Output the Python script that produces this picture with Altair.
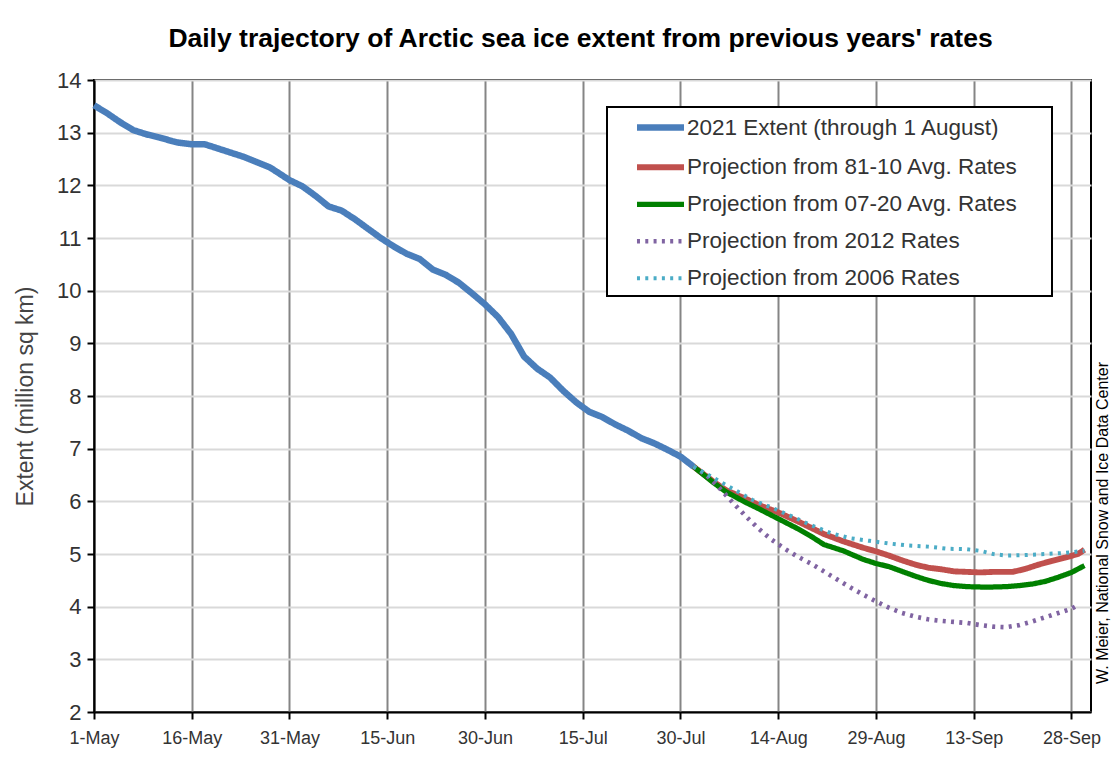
import altair as alt
import pandas as pd

# ---- data (days since 1 May 2021, extent in million sq km) ----
ext_day = [0, 2, 4, 6, 8, 10, 12, 13, 15, 17, 19, 21, 23, 25, 27, 28, 30, 32, 34, 36, 38, 40,
           42, 44, 46, 48, 50, 52, 54, 56, 58, 60, 62, 64, 66, 68, 70, 72, 74, 76, 78, 80,
           82, 84, 86, 88, 90, 92]
ext_val = [13.52, 13.37, 13.2, 13.05, 12.97, 12.91, 12.84, 12.81, 12.78, 12.78, 12.7, 12.62,
           12.54, 12.44, 12.34, 12.26, 12.1, 11.98, 11.8, 11.6, 11.52, 11.36, 11.18, 11.0,
           10.84, 10.7, 10.6, 10.4, 10.3, 10.15, 9.95, 9.74, 9.5, 9.18, 8.75, 8.52, 8.35,
           8.1, 7.88, 7.7, 7.6, 7.46, 7.34, 7.2, 7.1, 6.98, 6.85, 6.66]

r8110_day = [92, 95, 97, 100, 102, 105, 108, 110, 112, 115, 118, 120, 122, 124, 126, 128, 130,
             132, 134, 136, 138, 141, 143, 145, 147, 149, 151, 152]
r8110_val = [6.66, 6.38, 6.21, 6.05, 5.93, 5.79, 5.62, 5.5, 5.38, 5.24, 5.12, 5.05, 4.97, 4.88,
             4.8, 4.74, 4.71, 4.67, 4.66, 4.65, 4.66, 4.66, 4.72, 4.8, 4.87, 4.93, 5.0, 5.08]

r0720_day = [92, 95, 97, 100, 102, 105, 108, 110, 112, 115, 118, 120, 122, 124, 126, 128, 130,
             132, 134, 137, 140, 142, 144, 146, 148, 150, 152]
r0720_val = [6.66, 6.36, 6.18, 5.98, 5.86, 5.67, 5.48, 5.34, 5.18, 5.06, 4.9, 4.82, 4.76, 4.67,
             4.58, 4.5, 4.44, 4.4, 4.38, 4.37, 4.38, 4.4, 4.43, 4.48, 4.56, 4.65, 4.78]

r2012_day = [92, 94, 96, 98, 100, 102, 104, 106, 108, 110, 112, 114, 116, 118, 120, 122, 124,
             126, 128, 130, 132, 134, 136, 138, 140, 142, 144, 146, 148, 150, 151]
r2012_val = [6.66, 6.5, 6.25, 5.98, 5.72, 5.48, 5.27, 5.1, 4.95, 4.82, 4.67, 4.52, 4.37, 4.23,
             4.1, 3.98, 3.88, 3.81, 3.76, 3.73, 3.71, 3.69, 3.65, 3.62, 3.61, 3.65, 3.72, 3.8,
             3.88, 3.96, 4.03]

r2006_day = [92, 95, 98, 101, 104, 107, 110, 113, 116, 119, 122, 125, 128, 131, 134, 136, 138,
             140, 143, 146, 149, 152]
r2006_val = [6.66, 6.45, 6.24, 6.03, 5.88, 5.72, 5.55, 5.4, 5.3, 5.25, 5.2, 5.16, 5.14, 5.1,
             5.09, 5.06, 5.0, 4.97, 4.98, 5.0, 5.02, 5.06]

series_names = ["2021 Extent (through 1 August)",
                "Projection from 81-10 Avg. Rates",
                "Projection from 07-20 Avg. Rates",
                "Projection from 2012 Rates",
                "Projection from 2006 Rates"]
series_colors = ["#4a7ebb", "#c0504d", "#008000", "#8064a2", "#4bacc6"]
series_widths = [6.5, 4, 4, 4, 4]
series_dashes = [[1, 0], [1, 0], [1, 0], [3, 5.3], [3, 5.3]]

tick_days = [0, 15, 30, 45, 60, 75, 90, 105, 120, 135, 150]
tick_labels = ["1-May", "16-May", "31-May", "15-Jun", "30-Jun", "15-Jul", "30-Jul",
               "14-Aug", "29-Aug", "13-Sep", "28-Sep"]
y_ticks = list(range(2, 15))

title_text = "Daily trajectory of Arctic sea ice extent from previous years' rates"
credit_text = "W. Meier, National Snow and Ice Data Center"

# ---- build table ----
rows = []
for name, days, vals in zip(series_names,
                            [ext_day, r8110_day, r0720_day, r2012_day, r2006_day],
                            [ext_val, r8110_val, r0720_val, r2012_val, r2006_val]):
    for d, v in zip(days, vals):
        rows.append({"series": name, "day": d, "extent": v})
df = pd.DataFrame(rows)

FONT = "Liberation Sans"
label_array = "[" + ",".join("'%s'" % t for t in tick_labels) + "]"

legend = alt.Legend(
    title=None, orient="none", legendX=555, legendY=36,
    symbolType="M-2.94,0H2.94", symbolSize=256,
    labelFontSize=22.5, labelFont=FONT, labelColor="#333333",
    labelOffset=15, rowPadding=14, padding=0, labelLimit=0,
)

lines = alt.Chart(df).mark_line(strokeCap="butt", strokeJoin="round").encode(
    x=alt.X("day:Q", scale=alt.Scale(domain=[0, 153], nice=False, zero=False),
            axis=alt.Axis(values=tick_days, labelExpr=label_array + "[round(datum.value/15)]",
                          title=None, labelFontSize=18, labelFont=FONT, labelColor="#333333",
                          labelPadding=10, tickColor="black", tickSize=7, tickWidth=2,
                          domainColor="black", domainWidth=2, gridColor="#858585",
                          gridWidth=2, labelFlush=False)),
    y=alt.Y("extent:Q", scale=alt.Scale(domain=[2, 14], nice=False, zero=False),
            axis=alt.Axis(values=y_ticks, title="Extent (million sq km)",
                          titleFontSize=23, titleFont=FONT, titleFontWeight="normal",
                          titleColor="#444444", titlePadding=19,
                          labelFontSize=22, labelFont=FONT, labelColor="#333333",
                          labelPadding=6, tickColor="black", tickSize=7, tickWidth=2,
                          domainColor="black", domainWidth=2, gridColor="#d9d9d9",
                          gridWidth=2)),
    color=alt.Color("series:N", scale=alt.Scale(domain=series_names, range=series_colors),
                    legend=legend),
    strokeDash=alt.StrokeDash("series:N", scale=alt.Scale(domain=series_names, range=series_dashes),
                              legend=legend),
    strokeWidth=alt.StrokeWidth("series:N", scale=alt.Scale(domain=series_names, range=series_widths),
                                legend=legend),
)

one = pd.DataFrame({"k": [0]})
box = alt.Chart(one).mark_rect(fill="white", stroke="black", strokeWidth=2).encode(
    x=alt.value(513), x2=alt.value(958), y=alt.value(27), y2=alt.value(216))

credit = alt.Chart(one).mark_text(text=credit_text, angle=270, fontSize=16, font=FONT,
                                  color="black", align="center", baseline="middle").encode(
    x=alt.value(1009), y=alt.value(443))

chart = alt.layer(box, lines, credit).properties(
    width=997, height=632,
    autosize=alt.AutoSizeParams(type="none"),
    padding={"left": 86, "top": 72, "right": 20, "bottom": 36},
    title=alt.TitleParams(title_text, fontSize=26.5, font=FONT, fontWeight="bold",
                          color="black", anchor="middle", offset=17, dx=-12),
).configure_view(stroke="black", strokeWidth=2)

chart.save("out.html", embed_options={"renderer": "svg", "actions": False})
